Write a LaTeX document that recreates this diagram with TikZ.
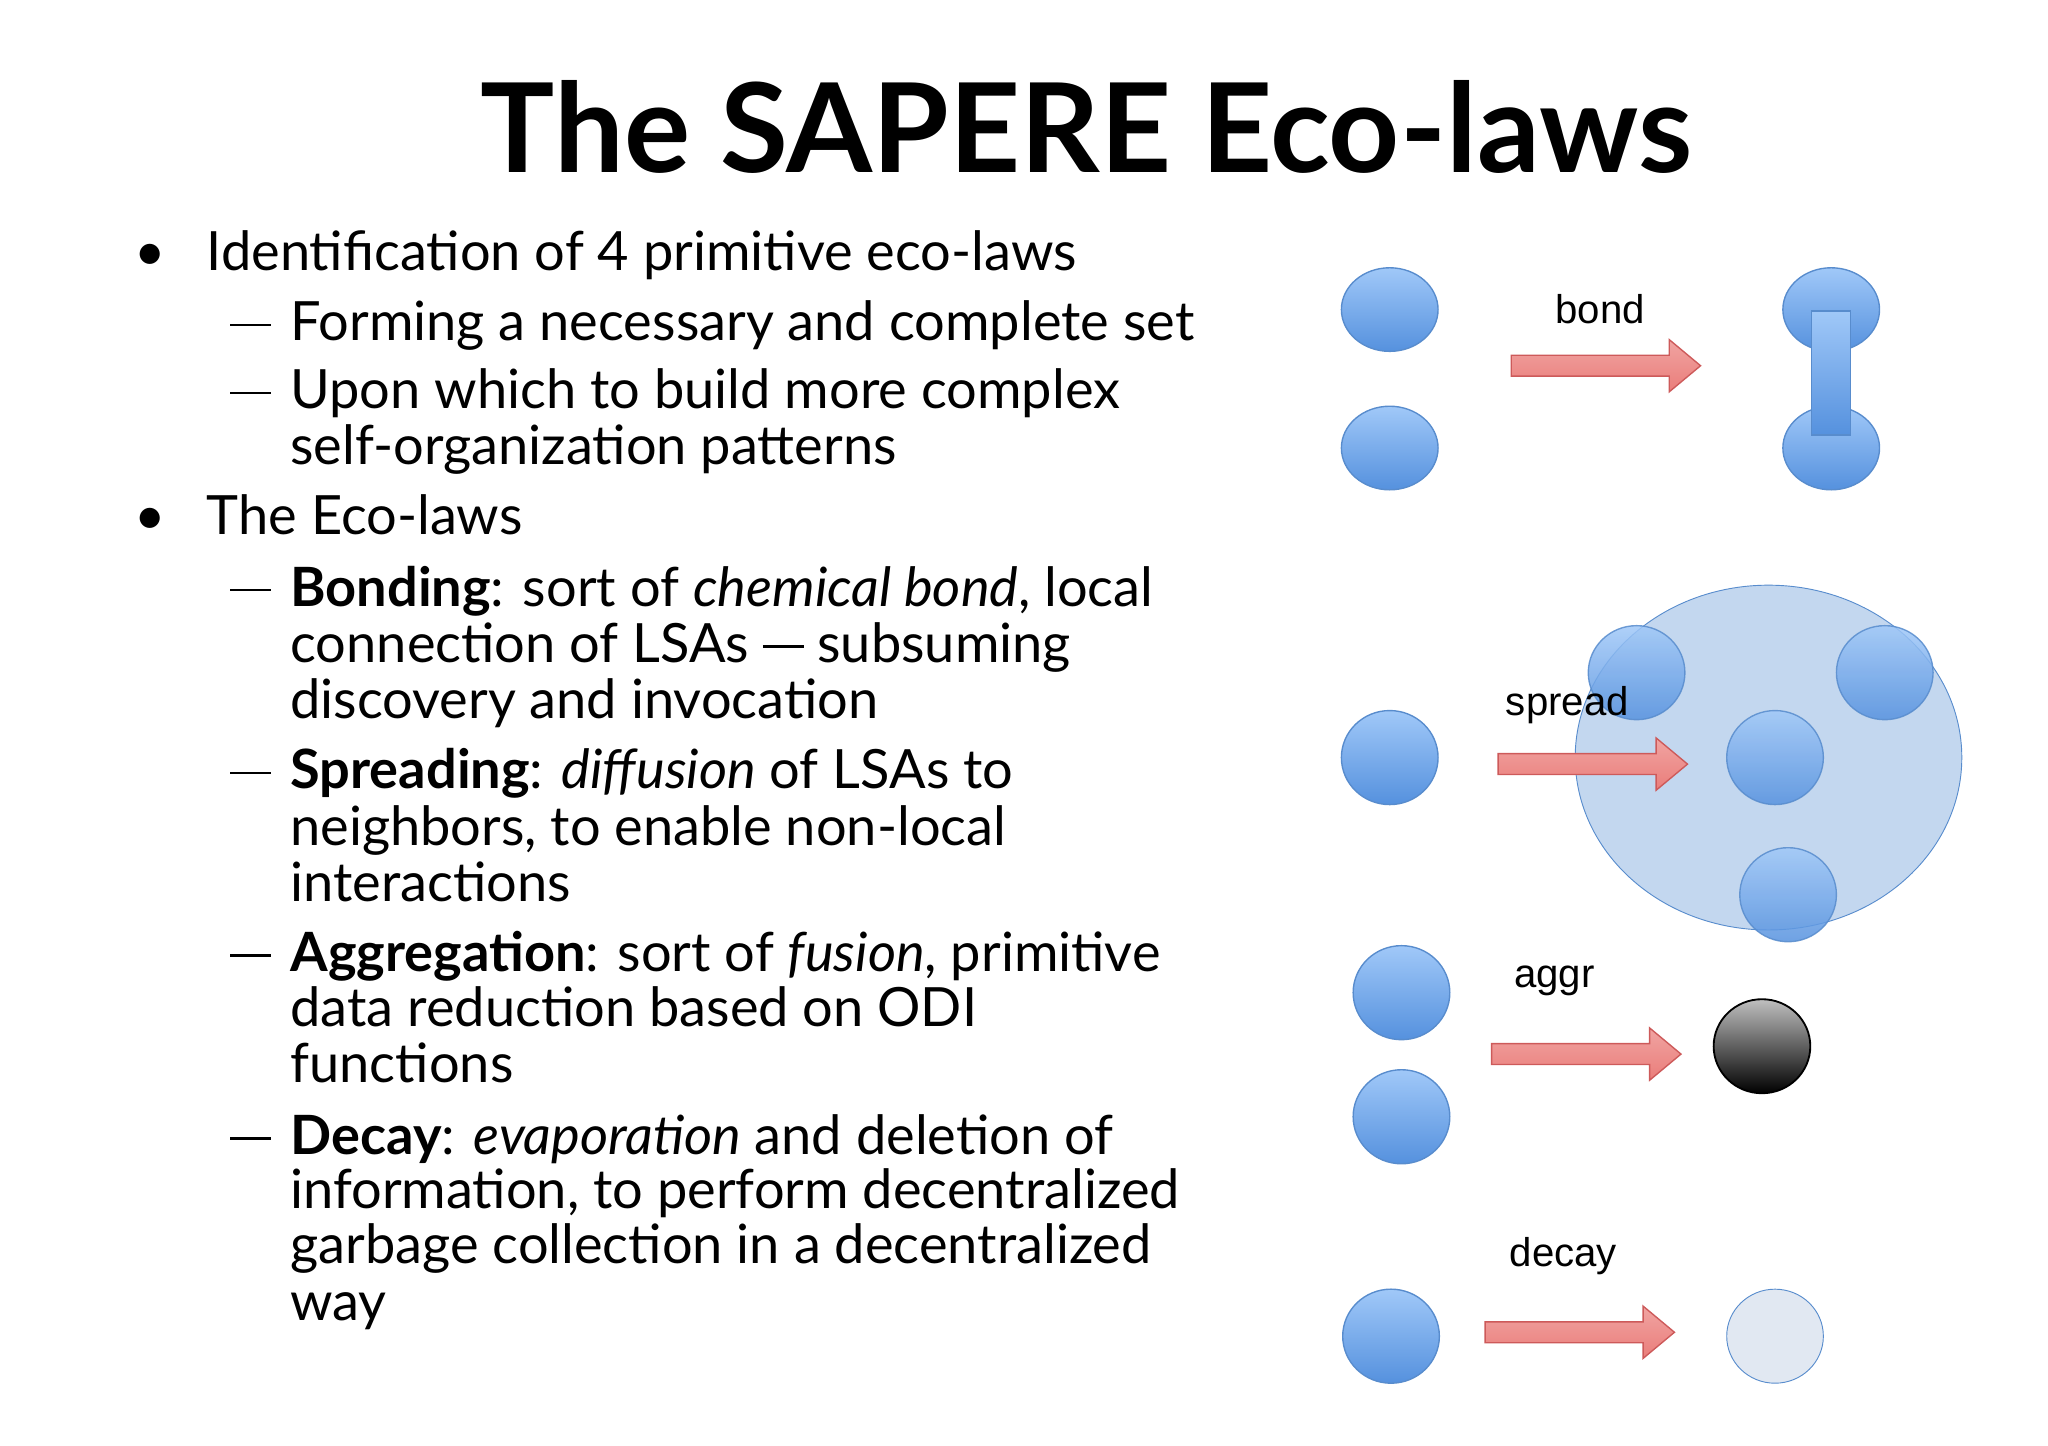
\documentclass[tikz,border=0pt]{standalone}
\usepackage{fontspec}
\setmainfont{Lato}
\newfontfamily\arialf{Liberation Sans}
\definecolor{arrfill}{RGB}{234,125,122}
\definecolor{arrdraw}{RGB}{205,90,90}
\definecolor{cb}{RGB}{88,140,205}
\newcommand\rarrow[3]{%
 \draw[arrdraw,top color=arrfill!70!white,bottom color=arrfill,line width=0.6pt]
 (#1,#3-8)--(#2-24,#3-8)--(#2-24,#3-20)--(#2,#3)--(#2-24,#3+20)--(#2-24,#3+8)--(#1,#3+8)--cycle;}
\newcommand\mydash{\rule[0.27em]{0.75em}{0.05em}}
\tikzset{
 ball/.style={draw=cb,line width=0.6pt,top color={rgb,255:red,160;green,200;blue,248},bottom color={rgb,255:red,85;green,145;blue,222}},
 txt/.style={anchor=base west,inner sep=0,font=\fontsize{23.6}{27}\selectfont},
 lab/.style={inner sep=0,font=\arialf\fontsize{17.5}{20}\selectfont}}
\begin{document}
\begin{tikzpicture}[x=0.02cm,y=-0.02cm]
\useasboundingbox (0,0) rectangle (1568,1107);
\node[inner sep=0,font=\fontsize{54}{60}\selectfont\bfseries] (title) at (832,97) {The SAPERE Eco-laws};
% text
\foreach \y/\b/\x/\t in {
 207/{\textbullet}/158/{Identification of 4 primitive eco-laws},
 261/{\mydash}/222/{Forming a necessary and complete set},
 313/{\mydash}/222/{Upon which to build more complex},
 356/{}/222/{self-organization patterns},
 409/{\textbullet}/158/{The Eco-laws},
 464/{\mydash}/222/{\textbf{Bonding}: sort of \textit{chemical bond}, local},
 507/{}/222/{connection of LSAs \mydash{} subsuming},
 550/{}/222/{discovery and invocation},
 604/{\mydash}/222/{\textbf{Spreading}: \textit{diffusion} of LSAs to},
 647/{}/222/{neighbors, to enable non-local},
 690/{}/222/{interactions},
 744/{\mydash}/222/{\textbf{Aggregation}: sort of \textit{fusion}, primitive},
 786/{}/222/{data reduction based on ODI},
 829/{}/222/{functions},
 884/{\mydash}/222/{\textbf{Decay}: \textit{evaporation} and deletion of},
 925/{}/222/{information, to perform decentralized},
 967/{}/222/{garbage collection in a decentralized},
 1011/{}/222/{way}}{
 \node[txt] at (\x,\y) {\t};
 \ifnum\x=158 \node[txt] at (103,\y) {\b};\else\node[txt] at (176,\y) {\b};\fi
}
% bond
\path[ball] (1064,237) ellipse (37 and 32);
\path[ball] (1064,343) ellipse (37 and 32);
\path[ball] (1402,237) ellipse (37 and 32);
\path[ball] (1402,343) ellipse (37 and 32);
\path[ball] (1387,238) rectangle (1417,333);
\rarrow{1157}{1302}{280}
\node[lab] (lbond) at (1225,237) {bond};
% spread
\path[draw=cb,fill={rgb,255:red,180;green,205;blue,235},fill opacity=0.8] (1354,580) ellipse (148 and 132);
\path[ball,opacity=0.85] (1253,515) ellipse (37 and 36);
\path[ball,opacity=0.85] (1443,515) ellipse (37 and 36);
\path[ball,opacity=0.85] (1359,580) ellipse (37 and 36);
\path[ball,opacity=0.85] (1369,685) ellipse (37 and 36);
\path[ball] (1064,580) ellipse (37 and 36);
\rarrow{1147}{1292}{585}
\node[lab] (lspread) at (1200,540) {spread};
% aggr
\path[ball] (1073,760) ellipse (37 and 36);
\path[ball] (1073,855) ellipse (37 and 36);
\path[draw=black,line width=0.8pt,top color=gray!50,bottom color=black] (1349,801) ellipse (37 and 36);
\rarrow{1142}{1287}{807}
\node[lab] (laggr) at (1190,751) {aggr};
% decay
\path[ball] (1065,1023) ellipse (37 and 36);
\path[draw=cb,fill={rgb,255:red,225;green,232;blue,242}] (1359,1023) ellipse (37 and 36);
\rarrow{1137}{1282}{1020}
\node[lab] (ldecay) at (1197,962) {decay};
\end{tikzpicture}
\end{document}
